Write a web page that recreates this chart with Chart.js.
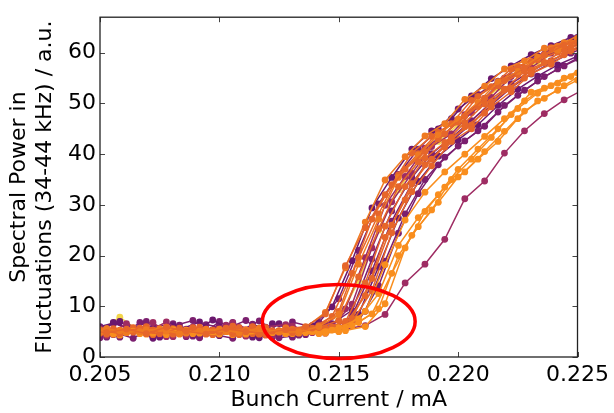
<!DOCTYPE html>
<html>
<head>
<meta charset="utf-8">
<script src="https://cdn.jsdelivr.net/npm/chart.js@4"></script>
<style>
  body { margin: 0; background: #fff; }
  canvas { display: block; }
</style>
</head>
<body>
<canvas id="powerChart" width="614" height="413"></canvas>
<script>
// bunch current grids (mA), three sweeps with small offsets
const gridA = [0.20417, 0.20500, 0.20583, 0.20667, 0.20750, 0.20833, 0.20917, 0.21000, 0.21083, 0.21167, 0.21250, 0.21333, 0.21417,
               0.21500, 0.21583, 0.21667, 0.21750, 0.21833, 0.21917, 0.22000, 0.22083, 0.22167, 0.22250, 0.22333, 0.22417, 0.22500];
const gridB = [0.20444, 0.20528, 0.20611, 0.20694, 0.20778, 0.20861, 0.20944, 0.21028, 0.21111, 0.21194, 0.21278, 0.21361, 0.21444,
               0.21528, 0.21611, 0.21694, 0.21778, 0.21861, 0.21944, 0.22028, 0.22111, 0.22194, 0.22278, 0.22361, 0.22444, 0.22528];
const gridC = [0.20472, 0.20556, 0.20639, 0.20722, 0.20806, 0.20889, 0.20972, 0.21056, 0.21139, 0.21222, 0.21306, 0.21389, 0.21472,
               0.21556, 0.21639, 0.21722, 0.21806, 0.21889, 0.21972, 0.22056, 0.22139, 0.22222, 0.22306, 0.22389, 0.22472, 0.22556];

// spectral power per measurement (a.u.)
const powerM1  = [5.2, 4.8, 5.5, 4.6, 5.9, 5.1, 4.5, 5.6, 5.0, 4.7, 5.4, 6.0, 8.5, 18.0, 25.5, 32.0, 37.0, 40.5, 44.0, 47.5, 51.0, 54.5, 57.0, 59.5, 61.5, 63.0];
const powerM2  = [6.4, 5.1, 3.9, 6.8, 4.4, 5.7, 3.8, 6.2, 5.0, 7.1, 4.6, 5.2, 6.8, 11.5, 21.0, 30.2, 36.0, 41.0, 45.0, 48.9, 51.8, 54.4, 57.0, 59.4, 61.3, 63.0];
const powerM3  = [4.7, 5.6, 4.9, 5.3, 4.5, 5.8, 5.2, 4.6, 6.0, 5.1, 4.8, 5.7, 8.0, 16.5, 27.2, 34.0, 40.2, 43.5, 46.0, 50.6, 53.3, 56.8, 58.3, 61.0, 62.0, 64.2];
const powerM4  = [5.8, 4.2, 6.6, 5.0, 6.9, 4.3, 5.5, 6.3, 4.1, 5.9, 6.4, 5.4, 6.4, 9.5, 19.6, 29.9, 35.6, 41.2, 44.0, 47.8, 51.0, 55.0, 56.8, 59.7, 60.8, 63.0];
const powerM5  = [5.0, 5.4, 4.6, 5.7, 5.2, 4.8, 5.9, 5.0, 4.4, 5.5, 5.1, 4.9, 5.8, 7.2, 15.8, 25.3, 33.6, 38.5, 43.0, 46.3, 49.4, 53.5, 55.7, 58.6, 60.1, 62.3];
const powerM6  = [3.8, 6.7, 5.2, 4.0, 6.1, 7.2, 4.5, 3.7, 6.5, 4.9, 3.9, 5.6, 6.6, 9.2, 19.3, 28.8, 35.4, 40.1, 43.2, 46.6, 50.2, 53.9, 56.4, 58.4, 60.4, 61.9];
const powerM7  = [5.5, 4.5, 5.1, 6.0, 4.7, 5.3, 4.9, 5.7, 5.4, 4.3, 5.8, 5.3, 5.7, 7.0, 14.6, 25.8, 33.6, 39.2, 42.3, 46.2, 49.9, 52.8, 56.3, 58.0, 60.6, 62.4];
const powerM8  = [4.1, 6.0, 7.0, 4.8, 3.9, 5.4, 6.9, 4.2, 5.8, 3.8, 6.6, 4.6, 5.3, 5.6, 8.4, 17.8, 27.4, 34.6, 39.6, 42.8, 45.8, 49.6, 52.8, 55.4, 57.6, 59.3];
const powerM9  = [4.9, 5.3, 5.8, 4.4, 5.6, 4.9, 5.3, 6.1, 4.6, 5.2, 5.5, 5.1, 5.9, 7.6, 15.5, 26.0, 34.2, 39.0, 43.3, 45.7, 50.3, 53.0, 56.6, 58.2, 60.9, 62.6];
const powerM10 = [6.9, 3.9, 5.0, 7.0, 5.3, 4.0, 6.4, 5.6, 7.2, 4.4, 5.3, 4.4, 5.6, 6.2, 9.0, 18.9, 28.2, 35.0, 39.4, 42.6, 45.5, 49.6, 52.6, 55.3, 57.4, 59.3];
const powerM11 = [5.3, 4.9, 5.2, 5.0, 5.6, 4.6, 5.1, 5.5, 4.8, 5.7, 4.9, 5.0, 6.0, 8.4, 18.3, 27.2, 35.4, 39.8, 43.8, 46.9, 50.2, 54.3, 56.3, 59.1, 60.5, 62.8];
const powerN1  = [4.0, 6.8, 5.3, 3.7, 6.2, 4.6, 7.3, 5.0, 3.9, 6.6, 5.5, 6.2, 9.9, 19.0, 29.4, 35.4, 41.0, 44.6, 47.0, 51.5, 54.9, 57.4, 59.6, 61.4, 63.0, 64.4];
const powerN2  = [5.6, 4.7, 5.3, 5.0, 4.6, 5.7, 5.2, 4.9, 5.8, 4.5, 5.2, 5.3, 6.2, 9.0, 19.6, 28.2, 35.9, 40.1, 44.3, 46.6, 51.4, 54.0, 57.3, 58.8, 61.3, 62.2];
const powerN3  = [6.5, 4.4, 5.1, 6.8, 4.0, 5.9, 4.6, 6.7, 5.2, 4.3, 6.1, 4.8, 6.1, 10.4, 21.5, 30.6, 36.2, 41.5, 44.0, 48.2, 51.2, 55.3, 57.0, 59.9, 60.9, 63.3];
const powerN4  = [4.8, 5.5, 5.0, 4.7, 5.9, 5.2, 4.6, 5.4, 5.1, 5.8, 4.7, 5.4, 5.0, 6.5, 12.1, 23.6, 31.0, 37.9, 41.4, 45.4, 48.1, 52.7, 55.0, 58.1, 59.6, 61.9];
const powerN5  = [5.4, 3.8, 6.9, 5.5, 4.2, 6.3, 3.9, 7.0, 4.7, 5.6, 3.8, 4.3, 6.3, 5.2, 7.0, 14.0, 24.4, 32.2, 37.9, 41.6, 44.6, 48.3, 51.6, 54.4, 56.8, 58.9];
const powerN6  = [5.0, 4.8, 5.2, 4.5, 5.1, 4.9, 4.6, 5.3, 4.8, 5.0, 4.6, 5.1, 4.7, 5.8, 9.0, 18.2, 27.0, 32.5, 36.5, 40.0, 43.5, 47.0, 50.5, 53.0, 55.0, 57.0];
const powerN7  = [5.1, 4.6, 5.7, 5.3, 4.9, 5.5, 4.4, 5.2, 5.9, 5.0, 5.3, 5.2, 5.5, 6.9, 13.1, 24.5, 32.6, 37.7, 42.5, 45.0, 49.3, 52.3, 55.9, 57.7, 60.3, 61.5];
const powerN8  = [4.7, 5.1, 4.9, 4.6, 5.2, 5.0, 4.7, 4.5, 5.1, 4.8, 5.0, 4.9, 5.2, 5.8, 7.5, 12.5, 22.0, 27.5, 32.0, 37.0, 41.0, 45.0, 49.0, 52.0, 54.0, 56.0];
const powerN9  = [7.1, 4.9, 3.7, 5.8, 6.6, 4.1, 5.3, 6.8, 4.4, 3.9, 6.9, 5.9, 5.4, 8.1, 17.0, 26.8, 34.2, 39.5, 42.6, 46.0, 49.7, 53.1, 55.8, 58.0, 59.9, 61.5];
const powerN10 = [5.0, 5.6, 4.8, 5.4, 5.1, 4.7, 5.5, 5.0, 5.3, 4.9, 5.6, 5.8, 8.8, 17.6, 26.6, 34.9, 39.5, 43.6, 46.0, 50.8, 53.4, 56.8, 58.4, 60.9, 62.0, 64.0];
const powerO1  = [4.6, 5.2, 4.8, 5.0, 4.4, 5.3, 4.7, 5.1, 4.5, 4.9, 5.2, 4.8, 5.0, 5.2, 6.0, 10.5, 21.5, 28.7, 33.5, 36.5, 40.5, 44.5, 48.5, 51.0, 53.5, 56.0];
const powerO2  = [5.0, 4.5, 5.1, 4.7, 5.4, 4.6, 5.0, 4.4, 5.2, 4.8, 4.6, 5.0, 5.3, 6.2, 8.5, 16.5, 24.0, 29.0, 35.0, 39.0, 43.3, 47.8, 52.2, 53.5, 55.3, 57.5];
const powerO3  = [4.8, 5.0, 4.3, 5.3, 4.9, 4.5, 5.2, 4.8, 5.0, 4.6, 5.1, 4.7, 4.6, 5.0, 6.8, 9.5, 20.0, 25.7, 30.5, 35.5, 39.0, 42.5, 47.0, 50.5, 52.6, 54.6];
const powerLone = [5.7, 4.3, 5.0, 6.2, 4.0, 5.5, 4.8, 6.0, 4.2, 5.3, 4.6, 5.1, 4.7, 5.5, 6.2, 8.4, 14.6, 18.3, 23.2, 31.2, 34.7, 40.2, 44.6, 48.0, 50.7, 52.8];
const powerY   = [5.5, 5.2, 7.85, 5.0, 5.4, 4.8, 5.2, 5.0, 5.3, 4.9, 5.1, 5.0, 5.6, 7.3, 15.0, 25.0, 33.0, 38.6, 42.5, 45.8, 49.5, 53.0, 55.8, 58.2, 60.2, 61.9];

const xTicks = [0.205, 0.210, 0.215, 0.220, 0.225];
const yTicks = [0, 10, 20, 30, 40, 50, 60];

const PURPLE = '#7b1f6f';
const DARK_PURPLE = '#6a176e';
const CRIMSON = '#9e2c63';
const ORANGE_RED = '#e6662a';
const ORANGE = '#ef7a22';
const BRIGHT_ORANGE = '#f98e1e';
const YELLOW = '#f3d54a';

function series(grid, values, color) {
    return {
        data: grid.map((x, i) => ({ x: x, y: values[i] })),
        borderColor: color,
        backgroundColor: color,
        borderWidth: 1.5,
        pointRadius: 3.4,
        pointBorderWidth: 0,
        pointBackgroundColor: color,
        tension: 0
    };
}

// first dataset is painted last (on top)
const datasets = [
    series(gridB, powerM1, ORANGE_RED),
    series(gridB, powerN10, ORANGE),
    series(gridA, powerM11, ORANGE),
    series(gridA, powerN2, ORANGE_RED),
    series(gridA, powerM5, ORANGE_RED),
    series(gridC, powerM3, ORANGE_RED),
    series(gridB, powerO1, BRIGHT_ORANGE),
    series(gridC, powerO2, BRIGHT_ORANGE),
    series(gridA, powerO3, BRIGHT_ORANGE),
    series(gridA, powerN8, BRIGHT_ORANGE),
    series(gridB, powerN6, BRIGHT_ORANGE),
    series(gridB, powerM7, ORANGE_RED),
    series(gridC, powerN7, ORANGE_RED),
    series(gridC, powerM9, ORANGE_RED),
    series(gridB, powerN4, ORANGE_RED),
    series(gridB, powerM4, CRIMSON),
    series(gridC, powerN3, CRIMSON),
    series(gridC, powerN1, DARK_PURPLE),
    series(gridA, powerM2, PURPLE),
    series(gridC, powerM6, PURPLE),
    series(gridC, powerN9, PURPLE),
    series(gridA, powerM8, DARK_PURPLE),
    series(gridB, powerM10, PURPLE),
    series(gridA, powerN5, PURPLE),
    series(gridB, powerLone, CRIMSON),
    series(gridA, powerY, YELLOW)
];

// frame plus inward ticks on all four sides
const frameTicks = {
    id: 'frameTicks',
    afterDatasetsDraw(chart) {
        const { ctx, chartArea: a, scales: { x, y } } = chart;
        const len = 5;
        ctx.save();
        ctx.strokeStyle = '#444';
        ctx.lineWidth = 1;
        ctx.beginPath();
        xTicks.forEach(v => {
            const px = Math.round(x.getPixelForValue(v)) + 0.5;
            ctx.moveTo(px, a.bottom); ctx.lineTo(px, a.bottom - len);
            ctx.moveTo(px, a.top); ctx.lineTo(px, a.top + len);
        });
        yTicks.forEach(v => {
            const py = Math.round(y.getPixelForValue(v)) + 0.5;
            ctx.moveTo(a.left, py); ctx.lineTo(a.left + len, py);
            ctx.moveTo(a.right, py); ctx.lineTo(a.right - len, py);
        });
        ctx.stroke();
        ctx.strokeStyle = '#222';
        ctx.lineWidth = 1.3;
        ctx.strokeRect(a.left, a.top, a.right - a.left, a.bottom - a.top);
        ctx.restore();
    }
};

// red ellipse marking the onset, given in data units
const onsetMark = { cx: 0.2150, cy: 7.0, rx: 0.0032, ry: 7.3 };
const ellipsePlugin = {
    id: 'onsetEllipse',
    afterDatasetsDraw(chart) {
        const { ctx, scales: { x, y } } = chart;
        const cx = x.getPixelForValue(onsetMark.cx);
        const cy = y.getPixelForValue(onsetMark.cy);
        const rx = Math.abs(x.getPixelForValue(onsetMark.cx + onsetMark.rx) - cx);
        const ry = Math.abs(y.getPixelForValue(onsetMark.cy + onsetMark.ry) - cy);
        ctx.save();
        ctx.strokeStyle = '#ff0000';
        ctx.lineWidth = 3.5;
        ctx.beginPath();
        ctx.ellipse(cx, cy, rx, ry, 0, 0, Math.PI * 2);
        ctx.stroke();
        ctx.restore();
    }
};

const font = { family: 'DejaVu Sans', size: 22 };

new Chart(document.getElementById('powerChart'), {
    type: 'line',
    data: { datasets: datasets },
    options: {
        responsive: false,
        animation: false,
        devicePixelRatio: 1,
        layout: { padding: { top: 14, right: 35, left: 0, bottom: 0 } },
        scales: {
            x: {
                type: 'linear',
                min: 0.205,
                max: 0.225,
                afterBuildTicks: s => { s.ticks = xTicks.map(v => ({ value: v })); },
                afterFit: s => { s.height = 56; },
                grid: { display: false, drawTicks: false },
                border: { display: false },
                ticks: {
                    font: font,
                    color: '#000',
                    padding: 5,
                    maxRotation: 0,
                    callback: v => v.toFixed(3)
                },
                title: {
                    display: true,
                    text: 'Bunch Current / mA',
                    font: font,
                    color: '#000',
                    padding: 0
                }
            },
            y: {
                min: 0,
                max: 67,
                afterBuildTicks: s => { s.ticks = yTicks.map(v => ({ value: v })); },
                afterFit: s => { s.width = 100; },
                grid: { display: false, drawTicks: false },
                border: { display: false },
                ticks: { font: font, color: '#000', padding: 4 },
                title: {
                    display: true,
                    text: ['Spectral Power in', 'Fluctuations (34-44 kHz) / a.u.'],
                    font: font,
                    color: '#000',
                    padding: { top: 6, bottom: 0 }
                }
            }
        },
        plugins: {
            legend: { display: false },
            tooltip: { enabled: false }
        }
    },
    plugins: [frameTicks, ellipsePlugin]
});
</script>
</body>
</html>
